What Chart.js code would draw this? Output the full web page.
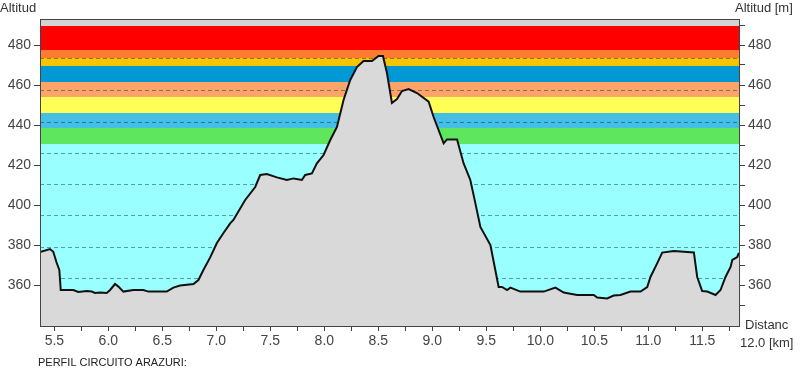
<!DOCTYPE html>
<html>
<head>
<meta charset="utf-8">
<script src="https://cdn.jsdelivr.net/npm/chart.js@4/dist/chart.umd.min.js"></script>
<style>
  html, body { margin: 0; padding: 0; background: #fff; }
  #wrap { width: 800px; height: 370px; }
</style>
</head>
<body>
<div id="wrap"><canvas id="profileChart" width="800" height="370"></canvas></div>
<script>
// Profile: distance [km] and altitude [m]
const distKm = [5.367, 5.46, 5.49, 5.522, 5.546, 5.559, 5.676, 5.722, 5.80, 5.846, 5.877, 5.923, 5.985,
    6.016, 6.062, 6.093, 6.139, 6.232, 6.324, 6.371, 6.541, 6.602, 6.665, 6.788, 6.834, 6.880, 6.943,
    7.005, 7.066, 7.128, 7.158, 7.267, 7.360, 7.406, 7.468, 7.561, 7.653, 7.715, 7.792, 7.823, 7.885, 7.931, 7.993,
    8.055, 8.117, 8.178, 8.240, 8.302, 8.363, 8.441, 8.502, 8.543, 8.580, 8.626, 8.673, 8.719, 8.780, 8.858, 8.966,
    9.012, 9.105, 9.136, 9.229, 9.290, 9.352, 9.399, 9.445, 9.538, 9.614, 9.646, 9.692, 9.723, 9.815,
    10.032, 10.140, 10.217, 10.341, 10.495, 10.527, 10.619, 10.680, 10.742, 10.835, 10.928, 10.990,
    11.020, 11.082, 11.129, 11.236, 11.422, 11.453, 11.499, 11.546, 11.623, 11.669, 11.715, 11.762, 11.778, 11.824, 11.839];
const altitudeM = [376.5, 378, 376.6, 371, 367.5, 357.5, 357.5, 356.5, 357, 356.7, 356, 356.3, 356,
    357.5, 360.5, 359.2, 356.7, 357.5, 357.5, 356.7, 356.7, 358.7, 359.7, 360.5, 362.5, 367.5, 373.8,
    381, 386, 390.8, 392.5, 402.5, 409, 415, 415.5, 413.8, 412.5, 413.3, 412.5, 415, 415.8, 420.8, 425,
    432.5, 439, 452.5, 462.5, 469, 472, 472, 474.5, 474.5, 466, 451, 453, 457, 458, 456, 451.7,
    444, 430.8, 432.8, 432.8, 420.8, 412.5, 400.8, 389, 380, 359, 359, 357.5, 358.7, 356.7,
    356.7, 358.7, 356.2, 355, 355, 353.7, 353.3, 354.7, 355, 356.7, 356.7, 359,
    364, 370.8, 376.2, 377, 376.3, 364, 357, 356.7, 355, 357.5, 364, 369, 372.5, 374, 376];

// Altitude colour zones (lower / upper edge in m)
const bandLow = [489.5, 477.5, 473.5, 469.5, 461.5, 454, 446, 438.5, 430.5, 339.5];
const bandHigh = [493, 489.5, 477.5, 473.5, 469.5, 461.5, 454, 446, 438.5, 430.5];
const bandColors = ['#d3d3d3', '#ff0000', '#ff7b30', '#f7c400', '#0099d6', '#ffa468', '#ffff55', '#46bfe6', '#5ee65e', '#99ffff'];

// Dashed reference lines (m)
const gridLevels = [473.5, 457.5, 441.5, 426, 410.5, 395, 379, 363.5];

// Axis ticks
const xTicks = [5.5, 5.75, 6.0, 6.25, 6.5, 6.75, 7.0, 7.25, 7.5, 7.75, 8.0, 8.25, 8.5, 8.75, 9.0, 9.25, 9.5, 9.75,
    10.0, 10.25, 10.5, 10.75, 11.0, 11.25, 11.5, 11.75];
const xLabels = [5.5, 6.0, 6.5, 7.0, 7.5, 8.0, 8.5, 9.0, 9.5, 10.0, 10.5, 11.0, 11.5];
const yTicks = [360, 380, 400, 420, 440, 460, 480];
const yMinorTicks = [350, 360, 370, 380, 390, 400, 410, 420, 430, 440, 450, 460, 470, 480, 490];

const X_MIN = 5.367, X_MAX = 11.84;
const Y_MIN = 339.5, Y_MAX = 493;
const FONT = 'Liberation Sans, Arial, sans-serif';

const bandsPlugin = {
    id: 'bands',
    beforeDatasetsDraw(chart) {
        const { ctx, chartArea: a, scales: { y } } = chart;
        ctx.save();
        ctx.beginPath();
        ctx.rect(a.left, a.top, a.right - a.left, a.bottom - a.top);
        ctx.clip();
        bandColors.forEach(function (c, i) {
            const top = y.getPixelForValue(bandHigh[i]);
            const bot = y.getPixelForValue(bandLow[i]);
            ctx.fillStyle = c;
            ctx.fillRect(a.left, top, a.right - a.left, bot - top);
        });
        ctx.strokeStyle = 'rgba(0, 40, 60, 0.45)';
        ctx.lineWidth = 1;
        ctx.setLineDash([4, 3]);
        gridLevels.forEach(function (v) {
            const py = Math.round(y.getPixelForValue(v)) + 0.5;
            ctx.beginPath();
            ctx.moveTo(a.left, py);
            ctx.lineTo(a.right, py);
            ctx.stroke();
        });
        ctx.restore();
    },
    afterDraw(chart) {
        const { ctx, chartArea: a } = chart;
        ctx.save();
        ctx.strokeStyle = '#444';
        ctx.lineWidth = 1;
        ctx.strokeRect(Math.round(a.left) + 0.5, Math.round(a.top) + 0.5, Math.round(a.right - a.left), Math.round(a.bottom - a.top));

        ctx.fillStyle = '#333';
        ctx.textBaseline = 'middle';
        ctx.textAlign = 'left';
        ctx.font = '13px ' + FONT;
        ctx.fillText('Altitud', 0, 8);
        ctx.fillText('Altitud [m]', 735, 8);
        ctx.fillText('Distanc', 745, 325);
        ctx.fillText('12.0 [km]', 740, 343);
        ctx.font = '11px ' + FONT;
        ctx.fillStyle = '#222';
        ctx.fillText('PERFIL CIRCUITO ARAZURI:', 38, 363);
        ctx.restore();
    }
};

const tickFont = { family: FONT, size: 14 };

new Chart(document.getElementById('profileChart'), {
    type: 'line',
    data: {
        datasets: [{
            data: distKm.map(function (d, i) { return { x: d, y: altitudeM[i] }; }),
            yAxisID: 'y',
            borderColor: '#111',
            borderWidth: 2,
            backgroundColor: '#d9d9d9',
            fill: 'start',
            pointRadius: 0,
            tension: 0
        }]
    },
    options: {
        responsive: false,
        animation: false,
        layout: { padding: { top: 19, left: 0, right: 0, bottom: 0 } },
        plugins: { legend: { display: false }, tooltip: { enabled: false } },
        scales: {
            x: {
                type: 'linear',
                min: X_MIN,
                max: X_MAX,
                border: { display: false },
                grid: { drawOnChartArea: false, tickLength: 5, color: '#444' },
                afterBuildTicks: function (axis) { axis.ticks = xTicks.map(function (v) { return { value: v }; }); },
                afterFit: function (axis) { axis.height = 44; },
                ticks: {
                    autoSkip: false, maxRotation: 0, padding: 2, color: '#444', font: tickFont,
                    callback: function (v) { return xLabels.indexOf(v) >= 0 ? v.toFixed(1) : ''; }
                }
            },
            y: {
                position: 'left',
                min: Y_MIN,
                max: Y_MAX,
                border: { display: false },
                grid: { drawOnChartArea: false, tickLength: 6, color: '#444' },
                afterBuildTicks: function (axis) { axis.ticks = yTicks.map(function (v) { return { value: v }; }); },
                afterFit: function (axis) { axis.width = 40; },
                ticks: { padding: 3, color: '#444', font: tickFont }
            },
            y2: {
                position: 'right',
                min: Y_MIN,
                max: Y_MAX,
                border: { display: false },
                grid: { drawOnChartArea: false, tickLength: 6, color: '#444' },
                afterBuildTicks: function (axis) { axis.ticks = yMinorTicks.map(function (v) { return { value: v }; }); },
                afterFit: function (axis) { axis.width = 61; },
                ticks: {
                    padding: 3, color: '#444', font: tickFont,
                    callback: function (v) { return yTicks.indexOf(v) >= 0 ? String(v) : ''; }
                }
            }
        }
    },
    plugins: [bandsPlugin]
});
</script>
</body>
</html>
